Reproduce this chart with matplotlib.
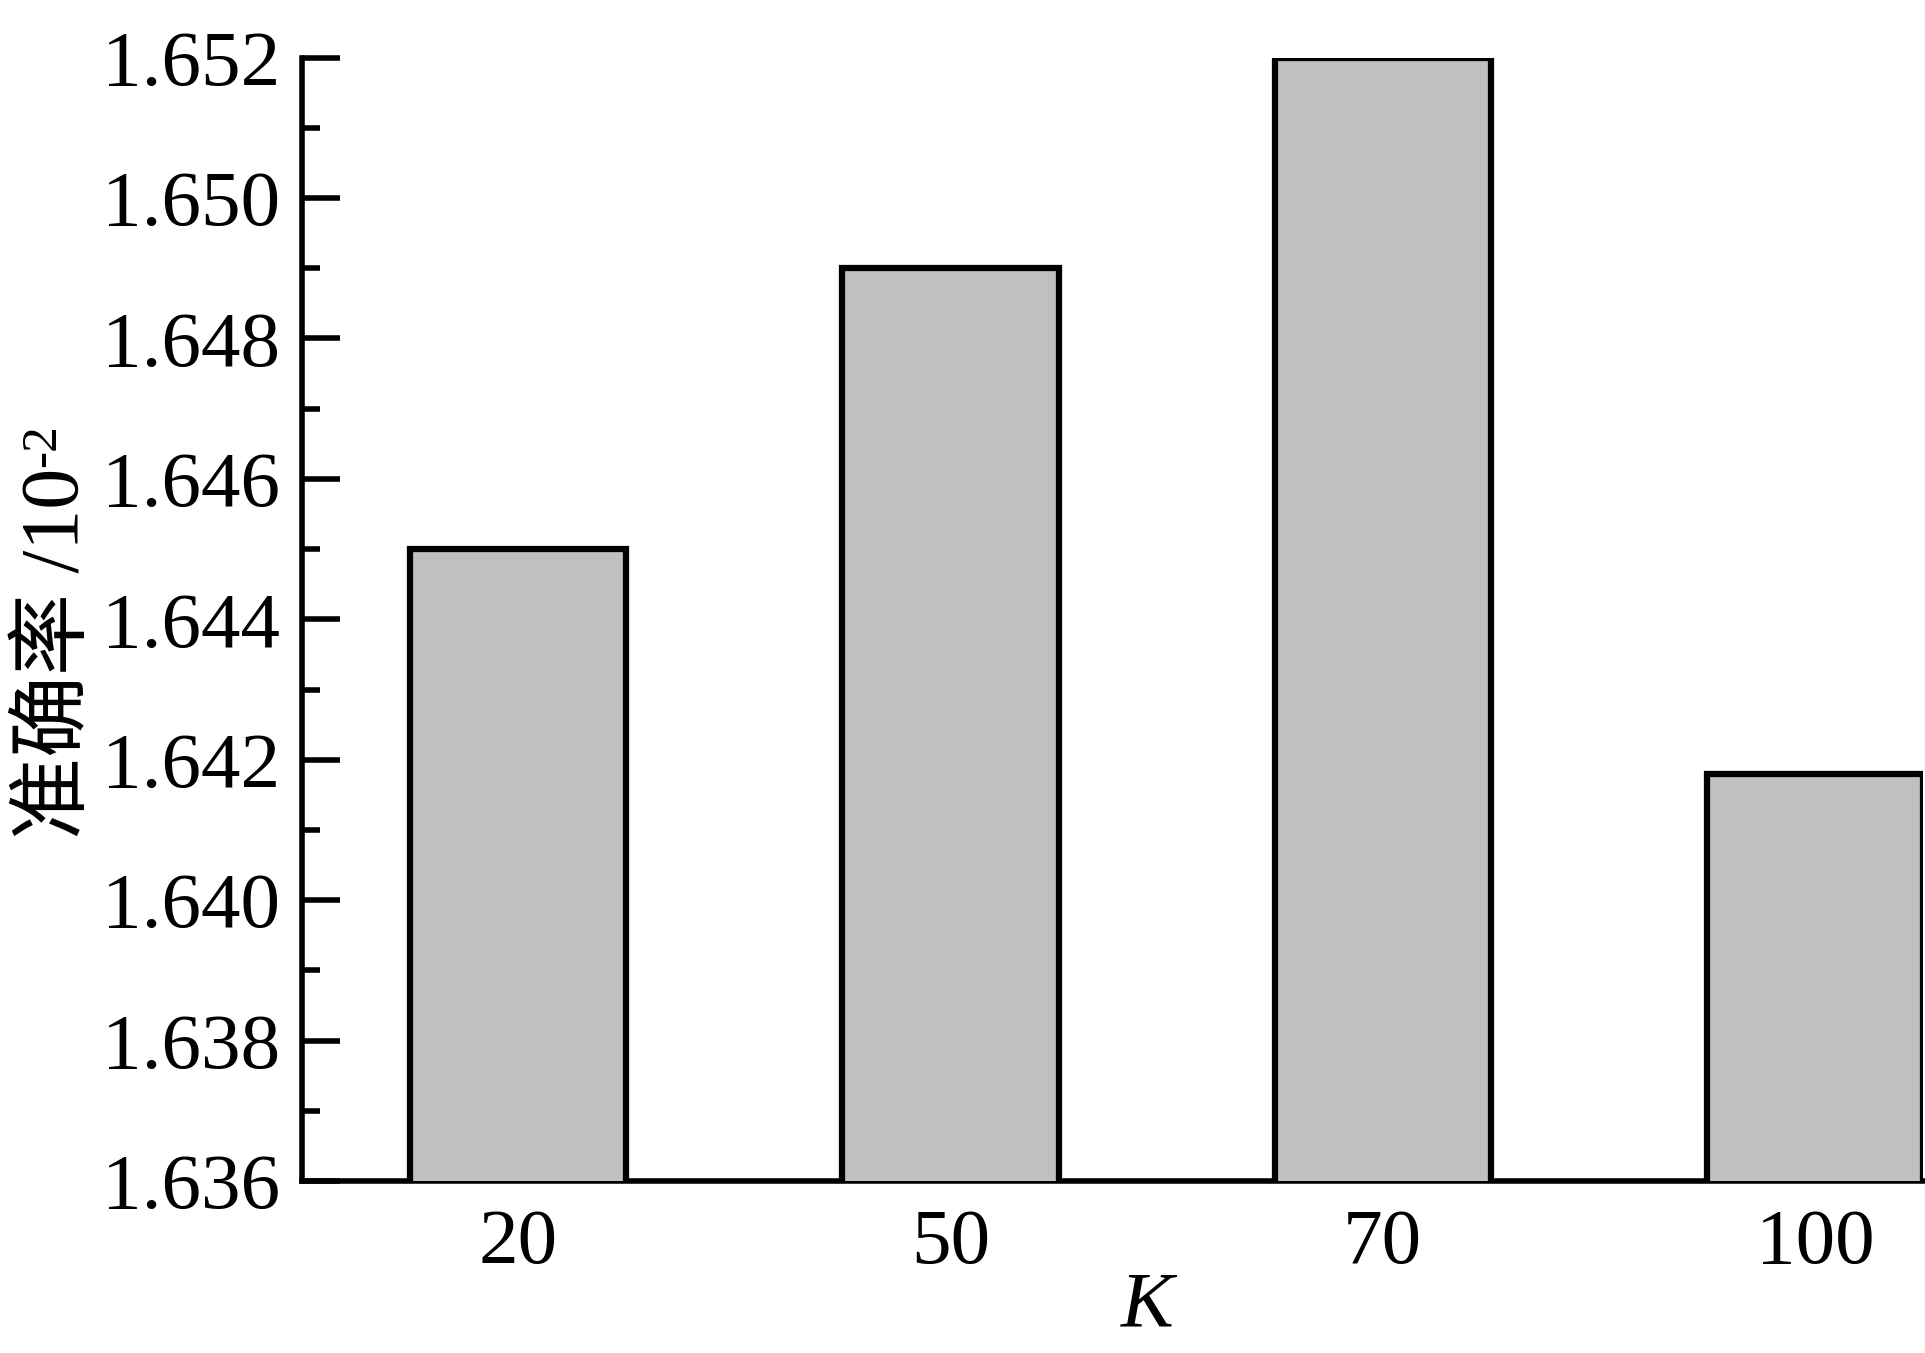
import matplotlib
matplotlib.use("Agg")
import matplotlib.pyplot as plt
from matplotlib.ticker import MultipleLocator, FormatStrFormatter

plt.rcParams['font.family'] = ['Liberation Serif', 'Noto Sans CJK SC']
plt.rcParams['mathtext.fontset'] = 'custom'
plt.rcParams['mathtext.rm'] = 'Liberation Serif'
plt.rcParams['mathtext.it'] = 'Liberation Serif:italic'

categories = ["20", "50", "70", "100"]
accuracy = [1.645, 1.649, 1.652, 1.6418]

fig = plt.figure(figsize=(19.25, 13.53), dpi=100)
ax = fig.add_axes([0.1569, 0.1271, 0.8421, 0.8303])

x = range(len(categories))
ax.bar(x, accuracy, width=0.5, color="#c0c0c0", edgecolor="black", linewidth=4.5, zorder=3)

ax.set_xlim(-0.5, 3.25)
ax.set_ylim(1.636, 1.652)
ax.set_xticks(list(x))
ax.set_xticklabels(categories)
ax.yaxis.set_major_locator(MultipleLocator(0.002))
ax.yaxis.set_minor_locator(MultipleLocator(0.001))
ax.yaxis.set_major_formatter(FormatStrFormatter("%.3f"))

for side in ["top", "right"]:
    ax.spines[side].set_visible(False)
for side in ["left", "bottom"]:
    ax.spines[side].set_linewidth(4)

ax.tick_params(axis="y", which="major", direction="in", length=27, width=4, labelsize=57, pad=16)
ax.tick_params(axis="y", which="minor", direction="in", length=13, width=4)
ax.tick_params(axis="x", which="both", length=0, labelsize=57, pad=20)

# y label: plain text plus a small raised "-2" (mathtext would drop the CJK glyphs)
ylab = ax.set_ylabel("准确率 /10", fontsize=59)
ax.yaxis.set_label_coords(-0.127, 0.47)
ax.annotate("-2", xy=(0, 1), xycoords=ylab, rotation=90, fontsize=37,
            ha="left", va="bottom")

ax.set_xlabel("$K$", fontsize=57)
ax.xaxis.set_label_coords(0.523, -0.08)

fig.savefig("out.png", dpi=100)
